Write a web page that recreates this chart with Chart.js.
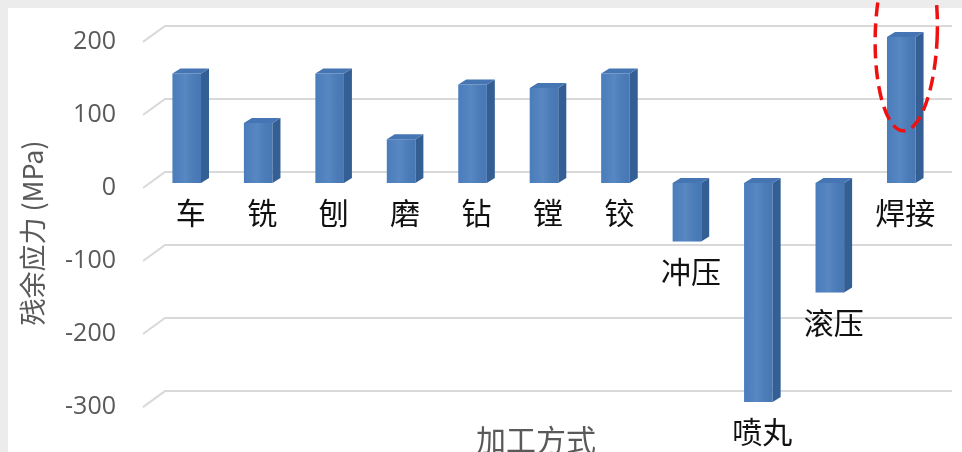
<!DOCTYPE html>
<html>
<head>
<meta charset="utf-8">
<script src="https://cdn.jsdelivr.net/npm/chart.js@4/dist/chart.umd.min.js"></script>
<style>
  html, body { margin: 0; padding: 0; background: #fff; overflow: hidden; }
  canvas { display: block; }
</style>
</head>
<body>
<canvas id="c" width="962" height="452"></canvas>
<script>
// Residual stress by machining process
const categories = ['车', '铣', '刨', '磨', '钻', '镗', '铰', '冲压', '喷丸', '滚压', '焊接'];
const stressValues = [150, 82, 150, 60, 135, 130, 150, -80, -300, -150, 200];
const tickValues = [200, 100, 0, -100, -200, -300];
const yTitle = '残余应力 (MPa)';
const xTitle = '加工方式';
const highlightCategory = '焊接';

const CJK = '"Noto Sans CJK SC", "Noto Sans", sans-serif';
const GRID = '#d9d9d9';
const AXIS_TEXT = '#595959';

// pseudo-3D depth of the columns and the back wall
const depthX = 8, depthY = 5;
const wallX = 14, wallY = 11;

const framePlugin = {
  id: 'frame',
  beforeDraw(chart) {
    const { ctx, width, height } = chart;
    ctx.save();
    ctx.fillStyle = '#ececec';
    ctx.fillRect(0, 0, width, height);
    ctx.fillStyle = '#ffffff';
    ctx.fillRect(8, 8, width - 8, height - 8);
    ctx.restore();
  }
};

const wallPlugin = {
  id: 'wall',
  beforeDatasetsDraw(chart) {
    const { ctx, chartArea: { left, right }, scales: { y } } = chart;
    ctx.save();
    ctx.strokeStyle = GRID;
    ctx.lineWidth = 2;
    tickValues.forEach(v => {
      const p = y.getPixelForValue(v);
      const yb = p - wallY;
      ctx.beginPath();
      ctx.moveTo(left - 8, p + 5);
      ctx.lineTo(left + wallX, yb);
      ctx.lineTo(right + 15, yb);
      ctx.stroke();
    });
    ctx.restore();
  }
};

const columnPlugin = {
  id: 'columns',
  afterDatasetsDraw(chart) {
    const { ctx } = chart;
    const meta = chart.getDatasetMeta(0);
    ctx.save();
    meta.data.forEach((bar, i) => {
      const { x, y, base, width } = bar.getProps(['x', 'y', 'base', 'width'], true);
      const l = x - width / 2, r = x + width / 2;
      const top = Math.min(y, base), bottom = Math.max(y, base);

      // soft highlight across the front face
      const g = ctx.createLinearGradient(l, 0, r, 0);
      g.addColorStop(0, 'rgba(255,255,255,0)');
      g.addColorStop(0.45, 'rgba(255,255,255,0.08)');
      g.addColorStop(1, 'rgba(0,0,0,0.04)');
      ctx.fillStyle = g;
      ctx.fillRect(l, top, width, bottom - top);

      // side face
      ctx.fillStyle = '#345f94';
      ctx.beginPath();
      ctx.moveTo(r, top);
      ctx.lineTo(r + depthX, top - depthY);
      ctx.lineTo(r + depthX, bottom - depthY);
      ctx.lineTo(r, bottom);
      ctx.closePath();
      ctx.fill();

      // top face
      ctx.fillStyle = '#4575b3';
      ctx.beginPath();
      ctx.moveTo(l, top);
      ctx.lineTo(l + depthX, top - depthY);
      ctx.lineTo(r + depthX, top - depthY);
      ctx.lineTo(r, top);
      ctx.closePath();
      ctx.fill();

      // category name under the column
      ctx.fillStyle = '#111111';
      ctx.font = '30px ' + CJK;
      ctx.textAlign = 'center';
      ctx.textBaseline = 'middle';
      ctx.fillText(categories[i], x + 4, bottom + 30);
    });
    ctx.restore();
  }
};

const titlePlugin = {
  id: 'titles',
  afterDraw(chart) {
    const { ctx, chartArea: { left, right } } = chart;
    ctx.save();
    ctx.fillStyle = AXIS_TEXT;
    ctx.textAlign = 'center';
    ctx.textBaseline = 'middle';
    ctx.font = '30px ' + CJK;
    ctx.fillText(xTitle, (left + right) / 2 - 8, 440);

    ctx.translate(33, 233);
    ctx.rotate(-Math.PI / 2);
    ctx.font = '27px ' + CJK;
    ctx.fillText(yTitle, 0, 0);
    ctx.restore();

    // dashed ring around the highlighted column
    const idx = categories.indexOf(highlightCategory);
    const bar = chart.getDatasetMeta(0).data[idx];
    if (bar) {
      const { x, y } = bar.getProps(['x', 'y'], true);
      ctx.save();
      ctx.strokeStyle = '#ee1111';
      ctx.lineWidth = 3.5;
      ctx.setLineDash([14, 7]);
      ctx.beginPath();
      ctx.ellipse(x + 5, y - 3, 31, 97, 0.03, 0, Math.PI * 2);
      ctx.stroke();
      ctx.restore();
    }
  }
};

new Chart(document.getElementById('c'), {
  type: 'bar',
  data: {
    labels: categories,
    datasets: [{
      data: stressValues,
      backgroundColor: '#4a7dbc',
      borderWidth: 0,
      barPercentage: 0.4,
      categoryPercentage: 1
    }]
  },
  options: {
    responsive: false,
    devicePixelRatio: 1,
    animation: false,
    layout: { padding: { left: 0, right: 25, top: 15, bottom: 28 } },
    plugins: { legend: { display: false }, tooltip: { enabled: false } },
    scales: {
      x: { type: 'category', display: false, offset: true },
      y: {
        min: -330,
        max: 230,
        grid: { display: false, drawTicks: false },
        border: { display: false },
        afterBuildTicks(scale) { scale.ticks = tickValues.map(v => ({ value: v })); },
        afterFit(scale) {
          scale.width = 151;
          scale.paddingTop = 0;
          scale.paddingBottom = 0;
        },
        ticks: {
          padding: 35,
          labelOffset: 5,
          color: AXIS_TEXT,
          font: { family: '"Open Sans", sans-serif', size: 25 }
        }
      }
    }
  },
  plugins: [framePlugin, wallPlugin, columnPlugin, titlePlugin]
});
</script>
</body>
</html>
